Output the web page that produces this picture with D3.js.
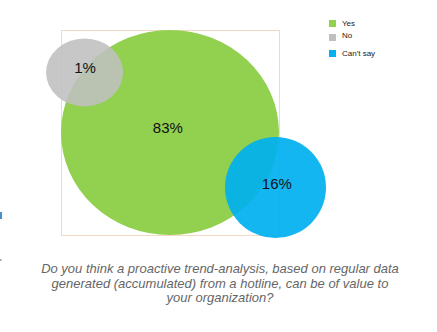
<!DOCTYPE html>
<html><head><meta charset="utf-8">
<script src="https://cdn.jsdelivr.net/npm/d3@7"></script>
<style>body{margin:0;background:#fff}svg{display:block}</style>
</head><body>
<script>
const categories = ["Yes", "No", "Can't say"];
const values = [83, 1, 16];
const labels = ["83%", "1%", "16%"];
const colors = ["#92d050", "#bfbfbf", "#00b0f0"];
const titleLines = [
  "Do you think a proactive trend-analysis, based on regular data",
  "generated (accumulated) from a hotline, can be of value to",
  "your organization?"
];

const W = 437, H = 332;
const svg = d3.select("body").append("svg").attr("width", W).attr("height", H);

// plot frame
const frame = {x: 61, y: 30, w: 218, h: 205};
svg.append("rect").attr("x", frame.x + 0.5).attr("y", frame.y + 0.5)
  .attr("width", frame.w).attr("height", frame.h)
  .attr("fill", "none").attr("stroke", "#f3d8c4").attr("stroke-width", 1);

// bubble positions in a unit space mapped via scales
const x = d3.scaleLinear().domain([0, 1]).range([frame.x, frame.x + frame.w]);
const y = d3.scaleLinear().domain([0, 1]).range([frame.y, frame.y + frame.h]);
const cx = [0.5, 0.108, 0.984];
const cy = [0.5, 0.207, 0.768];
const rx = [109, 38.5, 50.5];
const ry = [102.5, 34, 50.5];
const op = [1, 0.88, 0.92];

const order = [0, 1, 2];
svg.selectAll("ellipse.b").data(order).enter().append("ellipse")
  .attr("class", "b")
  .attr("cx", i => x(cx[i])).attr("cy", i => y(cy[i]))
  .attr("rx", i => rx[i]).attr("ry", i => ry[i])
  .attr("fill", i => colors[i]).attr("fill-opacity", i => op[i]);

const lx = [0.49, 0.11, 0.99];
const ly = [0.478, 0.185, 0.75];
svg.selectAll("text.l").data(order).enter().append("text")
  .attr("class", "l")
  .attr("x", i => x(lx[i])).attr("y", i => y(ly[i]))
  .attr("text-anchor", "middle").attr("dominant-baseline", "central")
  .attr("font-family", "Liberation Sans, Arial, sans-serif")
  .attr("font-size", 15).attr("fill", "#111")
  .text(i => labels[i]);

// legend
const lg = svg.append("g").attr("transform", "translate(329,20)");
const ys = [0, 14, 30];
categories.forEach((c, i) => {
  lg.append("rect").attr("x", 0).attr("y", ys[i]).attr("width", 7).attr("height", 7)
    .attr("fill", colors[i]);
  lg.append("text").attr("x", 13).attr("y", ys[i] + 3.5 - (i === 1 ? 2 : 0))
    .attr("dominant-baseline", "central")
    .attr("font-family", "Liberation Sans, Arial, sans-serif")
    .attr("font-size", 8).attr("fill", "#222").text(c);
});

// small marks at left edge
svg.append("rect").attr("x", 0).attr("y", 212).attr("width", 2).attr("height", 7).attr("fill", "#4a90c8");
svg.append("rect").attr("x", 0).attr("y", 259).attr("width", 1.5).attr("height", 2).attr("fill", "#9ab");

// title
svg.append("g").selectAll("text").data(titleLines).enter().append("text")
  .attr("x", 220).attr("y", (d, i) => 273 + i * 14.5)
  .attr("text-anchor", "middle")
  .attr("font-family", "Liberation Sans, Arial, sans-serif")
  .attr("font-style", "italic").attr("font-size", 13).attr("fill", "#666")
  .text(d => d);
</script>
</body></html>
